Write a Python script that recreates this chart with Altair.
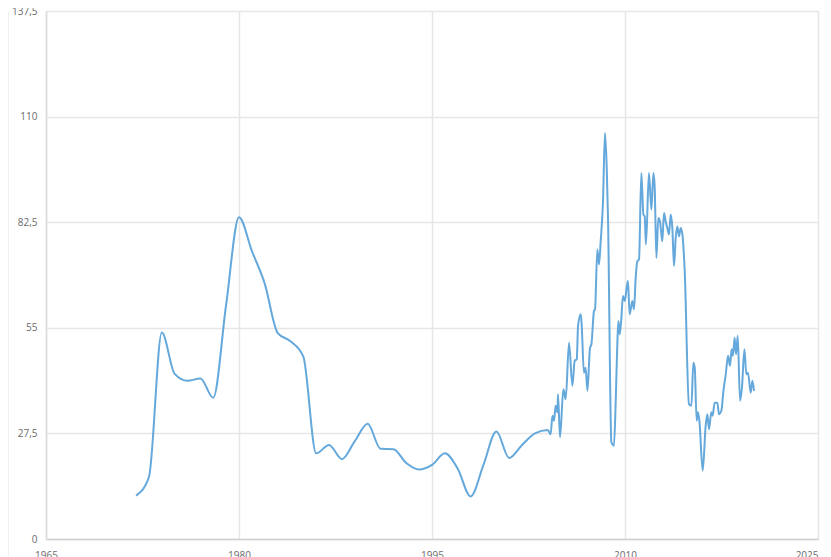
import altair as alt
import pandas as pd

# Annual values (1972-2004)
annual_years = [1972, 1973, 1974, 1975, 1976, 1977, 1978, 1979, 1980, 1981, 1982,
                1983, 1984, 1985, 1986, 1987, 1988, 1989, 1990, 1991, 1992, 1993,
                1994, 1995, 1996, 1997, 1998, 1999, 2000, 2001, 2002, 2003, 2004]
annual_values = [11.3, 16.1, 53.8, 43.0, 41.2, 41.8, 36.8, 61.0, 83.8, 75.0, 66.5,
                 53.7, 51.5, 47.5, 22.3, 24.5, 20.8, 25.5, 30.0, 23.5, 23.4, 19.8,
                 18.1, 19.3, 22.3, 18.3, 11.1, 19.3, 28.0, 21.1, 24.5, 27.5, 28.4]

# Sub-annual values (2004-2020)
recent_years = [2004.22, 2004.36, 2004.48, 2004.61, 2004.75, 2004.79, 2004.95, 2005.21,
                2005.39, 2005.65, 2005.91, 2006.09, 2006.25, 2006.35, 2006.56, 2006.63,
                2006.81, 2006.94, 2007.08, 2007.28, 2007.39, 2007.59, 2007.67, 2007.85,
                2007.98, 2008.11, 2008.29, 2008.44, 2008.58, 2008.68, 2008.94, 2009.14,
                2009.28, 2009.41, 2009.49, 2009.59, 2009.72, 2009.84, 2009.98, 2010.13,
                2010.23, 2010.36, 2010.57, 2010.70, 2010.83, 2010.96, 2011.09, 2011.27,
                2011.43, 2011.53, 2011.63, 2011.86, 2012.05, 2012.21, 2012.31, 2012.44,
                2012.59, 2012.72, 2012.90, 2013.03, 2013.16, 2013.29, 2013.42, 2013.55,
                2013.68, 2013.81, 2013.94, 2014.07, 2014.20, 2014.33, 2014.46, 2014.64,
                2014.97, 2015.16, 2015.31, 2015.42, 2015.57, 2015.67, 2015.78, 2016.04,
                2016.27, 2016.40, 2016.53, 2016.71, 2016.81, 2016.97, 2017.18, 2017.30,
                2017.49, 2017.65, 2017.83, 2018.01, 2018.16, 2018.29, 2018.39, 2018.52,
                2018.63, 2018.76, 2018.94, 2019.09, 2019.28, 2019.43, 2019.56, 2019.77,
                2019.90, 2020.03]
recent_values = [27.3, 32.1, 30.8, 34.7, 33.0, 37.7, 26.5, 39.0,
                 36.4, 51.1, 39.9, 46.4, 46.8, 55.5, 58.5, 55.9,
                 43.3, 44.6, 38.6, 49.8, 50.7, 59.4, 59.8, 75.4,
                 71.5, 77.5, 87.9, 105.7, 96.6, 83.6, 25.2, 24.3,
                 36.0, 51.6, 56.8, 53.3, 57.6, 63.3, 62.0, 65.4,
                 67.2, 58.5, 62.0, 59.8, 68.0, 72.3, 72.8, 95.3,
                 84.5, 84.0, 76.7, 95.3, 85.8, 95.3, 91.4, 73.2,
                 83.6, 82.7, 77.5, 84.9, 82.7, 81.0, 79.3, 84.5,
                 81.0, 71.1, 78.4, 81.4, 78.8, 81.0, 79.3, 69.8,
                 35.1, 34.7, 45.9, 44.6, 30.8, 33.0, 30.8, 17.8,
                 29.5, 32.5, 28.6, 33.0, 32.1, 35.5, 35.5, 32.5,
                 33.4, 38.6, 42.9, 47.7, 45.1, 49.4, 47.7, 52.4,
                 48.1, 52.9, 36.0, 39.4, 49.4, 42.9, 43.3, 38.1,
                 41.2, 38.6]

x_ticks = [1965, 1980, 1995, 2010, 2025]
y_ticks = [0, 27.5, 55, 82.5, 110, 137.5]

df = pd.DataFrame({
    "year": annual_years + recent_years,
    "value": annual_values + recent_values,
})

FONT = "Open Sans"
LABEL_COLOR = "#6b6b6b"

line = alt.Chart(df).mark_line(
    color="#64A8DC", strokeWidth=2, interpolate="monotone"
).encode(
    x=alt.X("year:Q",
            scale=alt.Scale(domain=[1965, 2025], nice=False, zero=False),
            axis=alt.Axis(values=x_ticks, format="d", title=None, ticks=False,
                          labelPadding=11, labelFont=FONT, labelFontSize=10,
                          labelColor=LABEL_COLOR, domainColor="#d0d0d0",
                          domainWidth=1.5, gridColor="#e6e6e6", gridWidth=1.5,
                          labelFlush=False,
                          labelAlign=alt.ExprRef(expr="datum.value == 2025 ? 'right' : 'center'"))),
    y=alt.Y("value:Q",
            scale=alt.Scale(domain=[0, 137.5], nice=False),
            axis=alt.Axis(values=y_ticks, title=None, ticks=False,
                          labelPadding=9, labelFont=FONT, labelFontSize=10,
                          labelColor=LABEL_COLOR, domainColor="#dcdcdc",
                          domainWidth=1.5, gridColor="#e6e6e6", gridWidth=1.5,
                          labelExpr="replace(format(datum.value, '.1~f'), '.', ',')")),
)

frame = alt.Chart(pd.DataFrame({"k": [0]})).mark_rule(
    color="#e2e2e2", strokeWidth=1
).encode(x=alt.value(-38), y=alt.value(0), y2=alt.value(545))

chart = alt.layer(frame, line).properties(
    width=772, height=528,
    autosize=alt.AutoSizeParams(type="none"),
    padding={"left": 38, "top": 3, "right": 5, "bottom": 24},
).configure_view(stroke="#e6e6e6", strokeWidth=1.5).configure(background="white")

chart.save("out.html", embed_options={"renderer": "svg", "actions": False})
